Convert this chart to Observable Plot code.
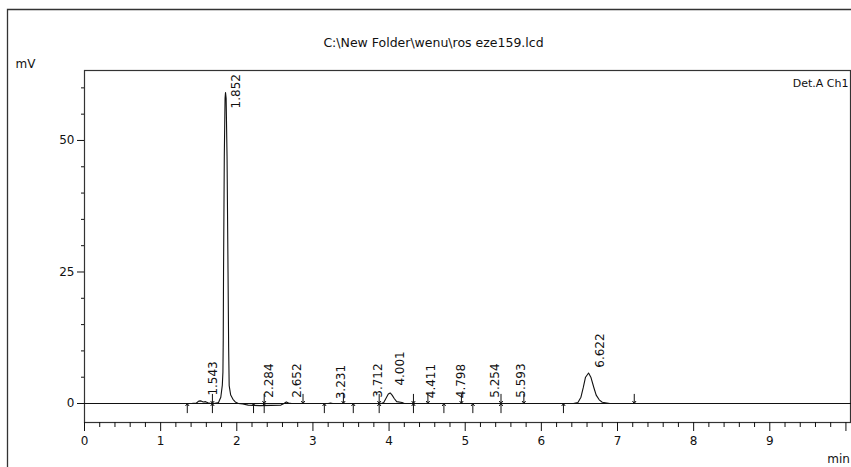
<!DOCTYPE html>
<html>
<head>
<meta charset="utf-8">
<script src="https://cdn.jsdelivr.net/npm/d3@7"></script>
<script src="https://cdn.jsdelivr.net/npm/@observablehq/plot@0.6"></script>
<style>
  html, body { margin: 0; padding: 0; background: #fff; }
</style>
</head>
<body>
<div id="chart"></div>
<script>
// ---- data ----
const traceTime = [0, 1.40, 1.47, 1.50, 1.53, 1.56, 1.59, 1.62, 1.66, 1.70, 1.76, 1.79, 1.81, 1.818, 1.822, 1.826, 1.836, 1.846, 1.852, 1.86, 1.872, 1.885, 1.893, 1.90, 1.92, 1.95, 1.98, 2.02, 2.08, 2.15, 2.30, 2.45, 2.58, 2.62, 2.65, 2.68, 2.72, 3.20, 3.23, 3.26, 3.90, 3.93, 3.96, 3.99, 4.015, 4.04, 4.07, 4.10, 4.17, 4.20, 6.42, 6.48, 6.52, 6.55, 6.58, 6.62, 6.65, 6.69, 6.72, 6.76, 6.80, 6.86, 6.90, 10.06];
const traceMV   = [0, 0,    0.1,  0.45, 0.5,  0.3,  0.35, 0.15, 0,    0,    0.2,  1.2,  3.5,  6,     12,    25,    47,    58,    59.1,  58,   47,    25,    10.7,  3.4,  1.6,  0.8,  0.3,  0,    -0.1, -0.3, -0.4, -0.35, -0.3, 0,    0.3,  0.1,  0,    0,    0.1,  0,    0,    0.2,  1.0,  1.8,  2.0,   1.6,  0.9,  0.35, 0.2,  0,    0,    0.2,  1.2,  3.0,  5.0,  5.8,  5.0,  3.0,  1.6,  0.7,  0.25, 0.1,  0,    0];

const peakTimes   = [1.543, 1.852, 2.284, 2.652, 3.231, 3.712, 4.001, 4.411, 4.798, 5.254, 5.593, 6.622];
const peakLabelMV = [1.5,   56.1,  1.1,   1.1,   0.8,   1.1,   3.4,   1.0,   1.0,   1.1,   1.1,   6.8];

const markBelow = [1.35, 1.68, 2.22, 2.36, 3.15, 3.53, 3.87, 4.32, 4.72, 5.10, 5.47, 6.29];
const markAbove = [1.68, 2.36, 2.87, 3.40, 3.87, 4.32, 4.51, 4.95, 5.47, 5.77, 7.22];

const xMajorTicks = [0, 1, 2, 3, 4, 5, 6, 7, 8, 9, 10];
const xTickLabels = ["0", "1", "2", "3", "4", "5", "6", "7", "8", "9", ""];
const yMajorTicks = [0, 25, 50];
const yMinorTicks = [5, 10, 15, 20, 30, 35, 40, 45, 55, 60];
const xMinorTicks = d3.range(0, 50).map(i => i / 5).filter(v => !Number.isInteger(v));

const titleText = "C:\\New Folder\\wenu\\ros eze159.lcd";
const channelText = "Det.A Ch1";
const yUnit = "mV";
const xUnit = "min";

// ---- build tables ----
const trace = traceTime.map((t, i) => ({t, v: traceMV[i]}));
const peaks = peakTimes.map((t, i) => ({t, y: peakLabelMV[i], label: t.toFixed(3)}));
const ink = "#111";

const outerFrame = (index, scales, values, dims) => {
  const g = d3.create("svg:g");
  g.append("path")
    .attr("d", `M7.5,${dims.height} V9.5 H${dims.width}`)
    .attr("fill", "none")
    .attr("stroke", "#333")
    .attr("stroke-width", 1.3);
  return g.node();
};

const chart = Plot.plot({
  width: 851,
  height: 467,
  marginTop: 70,
  marginLeft: 84,
  marginRight: 1,
  marginBottom: 45,
  style: {fontFamily: "DejaVu Sans", fontSize: "12px", background: "#fff", color: ink},
  x: {domain: [0, 10.06]},
  y: {domain: [-3.61, 63.3]},
  marks: [
    outerFrame,
    Plot.frame({stroke: "#333", strokeWidth: 1.2}),
    Plot.ruleY([0], {stroke: ink, strokeWidth: 1}),
    Plot.axisX({ticks: xMinorTicks, tickSize: 5, tickFormat: () => "", label: null, stroke: ink}),
    Plot.axisX({ticks: xMajorTicks, tickSize: 9, tickPadding: 5, tickFormat: (d, i) => xTickLabels[i], label: null, stroke: ink, fill: ink, fontSize: 12}),
    Plot.axisY({ticks: yMinorTicks, tickSize: 3, tickFormat: () => "", label: null, stroke: ink}),
    Plot.axisY({ticks: yMajorTicks, tickSize: 7, tickPadding: 3, label: null, stroke: ink, fill: ink, fontSize: 12}),
    Plot.line(trace, {x: "t", y: "v", stroke: ink, strokeWidth: 1.1, curve: "linear"}),
    Plot.arrow(markBelow, {x1: d => d, x2: d => d, y1: -1.75, y2: 0, stroke: ink, strokeWidth: 1, headLength: 4, headAngle: 70}),
    Plot.arrow(markAbove, {x1: d => d, x2: d => d, y1: 1.75, y2: 0, stroke: ink, strokeWidth: 1, headLength: 4, headAngle: 70}),
    Plot.text(peaks, {x: "t", y: "y", text: "label", rotate: -90, textAnchor: "start", dx: 11, fontSize: 12, fill: ink}),
    Plot.text([titleText], {frameAnchor: "top", dx: -34, dy: -32, fontSize: 12.5, fill: ink}),
    Plot.text([channelText], {frameAnchor: "top-right", textAnchor: "end", dx: -2, dy: 9, fontSize: 11, fill: ink}),
    Plot.text([yUnit], {frameAnchor: "top-left", textAnchor: "middle", dx: -59, dy: -11, fontSize: 12, fill: ink}),
    Plot.text([xUnit], {frameAnchor: "bottom-right", textAnchor: "middle", dx: -12, dy: 40, fontSize: 12, fill: ink})
  ]
});

document.getElementById("chart").append(chart);
</script>
</body>
</html>
